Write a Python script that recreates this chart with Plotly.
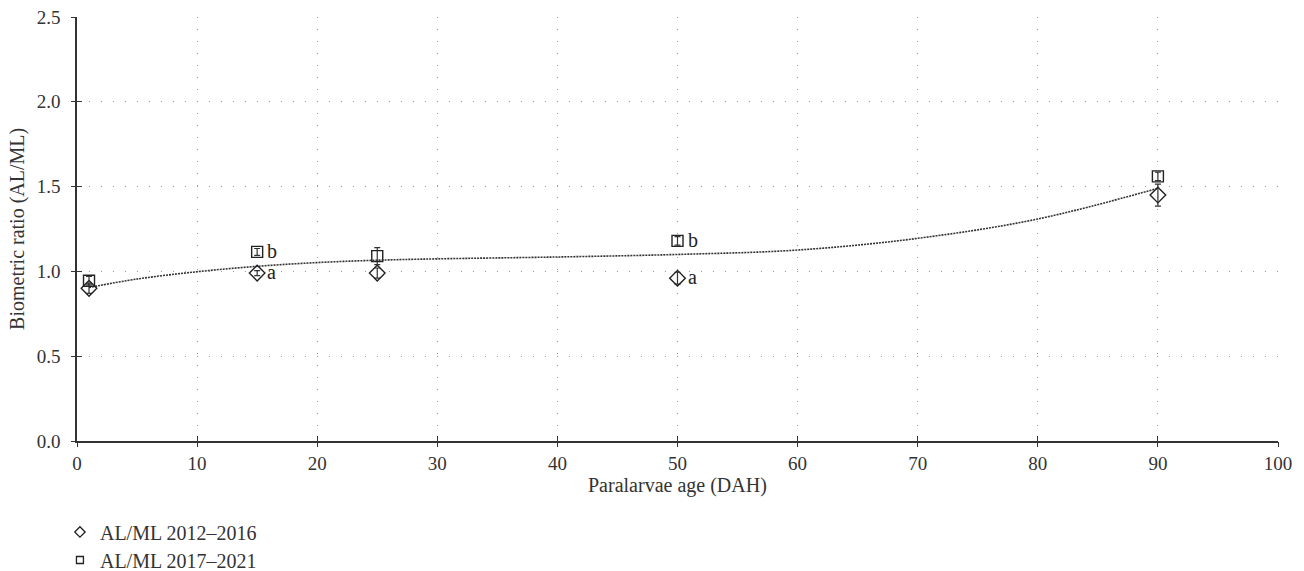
import plotly.graph_objects as go

age = [1, 15, 25, 50, 90]
ratio_2012_2016 = [0.90, 0.99, 0.99, 0.96, 1.45]
err_2012_2016 = [0.03, 0.015, 0.03, 0.035, 0.065]
ratio_2017_2021 = [0.945, 1.115, 1.09, 1.18, 1.56]
err_2017_2021 = [0.025, 0.02, 0.05, 0.025, 0.025]

trend_x = [1, 5, 10, 15, 20, 25, 30, 40, 50, 60, 70, 80, 90]
trend_y = [0.905, 0.955, 0.998, 1.03, 1.052, 1.066, 1.074, 1.085, 1.10, 1.126, 1.195, 1.309, 1.49]

sig_x = [15, 50, 15, 50]
sig_y = [1.115, 1.18, 0.99, 0.96]
sig_text = ["b", "b", "a", "a"]

series_names = ["AL/ML 2012\u20132016", "AL/ML 2017\u20132021"]

FONT = "Liberation Serif"
grid = "#9a9a9a"
ink = "#222"

fig = go.Figure()
fig.add_trace(go.Scatter(
    x=trend_x, y=trend_y, mode="lines", line=dict(color="#333", width=1.6, dash="2px,1px", shape="spline"),
    showlegend=False, hoverinfo="skip"))
fig.add_trace(go.Scatter(
    x=age, y=ratio_2012_2016, mode="markers", name=series_names[0], showlegend=False,
    marker=dict(symbol="diamond-open", size=12, color=ink, line=dict(width=1.4, color=ink)),
    error_y=dict(type="data", array=err_2012_2016, color="#333", thickness=1.2, width=3)))
fig.add_trace(go.Scatter(
    x=age, y=ratio_2017_2021, mode="markers", name=series_names[1], showlegend=False,
    marker=dict(symbol="square-open", size=11, color=ink, line=dict(width=1.4, color=ink)),
    error_y=dict(type="data", array=err_2017_2021, color="#333", thickness=1.2, width=3)))

# legend-only entries with small symbols
fig.add_trace(go.Scatter(x=[None], y=[None], mode="markers", name=series_names[0], legend="legend",
                         marker=dict(symbol="diamond-open", size=8, color=ink, line=dict(width=1.3, color=ink))))
fig.add_trace(go.Scatter(x=[None], y=[None], mode="markers", name=series_names[1], legend="legend2",
                         marker=dict(symbol="square-open", size=7, color=ink, line=dict(width=1.3, color=ink))))

for xv, yv, t in zip(sig_x, sig_y, sig_text):
    fig.add_annotation(x=xv, y=yv, text=t, showarrow=False, xanchor="left", yanchor="middle",
                       xshift=8, yshift=1, font=dict(family=FONT, size=20, color=ink))

# axis titles
fig.add_annotation(xref="paper", yref="paper", x=0.5, y=-0.106, text="Paralarvae age (DAH)",
                   showarrow=False, xanchor="center", yanchor="middle", font=dict(size=20, color="#333"))
fig.add_annotation(xref="paper", yref="paper", x=-0.05, y=0.5, text="Biometric ratio (AL/ML)",
                   showarrow=False, xanchor="center", yanchor="middle", textangle=-90,
                   font=dict(size=20, color="#333"))

# outer-tick overlay axes
fig.add_trace(go.Scatter(x=[0, 100], y=[0, 2.5], xaxis="x2", yaxis="y2", mode="markers",
                         marker=dict(opacity=0), showlegend=False, hoverinfo="skip"))

W, H = 1304, 571
fig.update_layout(
    width=W, height=H,
    margin=dict(l=77, r=26, t=17, b=130, autoexpand=False),
    plot_bgcolor="white", paper_bgcolor="white",
    font=dict(family=FONT, size=19, color="#333"),
    xaxis=dict(range=[0, 100], dtick=10, tick0=0, showgrid=True, gridcolor=grid, griddash="1px,11px", gridwidth=1,
               showline=True, linecolor="#333", linewidth=1.5, ticks="inside", ticklen=5, tickcolor="#333",
               zeroline=False, automargin=False, tickfont=dict(size=19), ticklabelstandoff=4,
               ticklabeloverflow="allow"),
    yaxis=dict(range=[0, 2.5], dtick=0.5, tick0=0, tickformat=".1f", showgrid=True, gridcolor=grid,
               griddash="1px,11px", gridwidth=1, automargin=False,
               showline=True, linecolor="#333", linewidth=1.5, ticks="inside", ticklen=5, tickcolor="#333",
               zeroline=False, tickfont=dict(size=19), ticklabelstandoff=11, ticklabeloverflow="allow"),
    xaxis2=dict(overlaying="x", range=[0, 100], dtick=10, tick0=0, showgrid=False, showticklabels=False,
                ticks="outside", ticklen=5, tickcolor="#333", zeroline=False, showline=False, side="bottom",
                automargin=False),
    yaxis2=dict(overlaying="y", range=[0, 2.5], dtick=0.5, tick0=0, showgrid=False, showticklabels=False,
                ticks="outside", ticklen=5, tickcolor="#333", zeroline=False, showline=False, side="left",
                automargin=False),
    legend=dict(x=-0.0142, y=-0.2146, xanchor="left", yanchor="middle", orientation="v",
                font=dict(size=20, color="#333"), itemwidth=30, bgcolor="rgba(0,0,0,0)"),
    legend2=dict(x=-0.0142, y=-0.2807, xanchor="left", yanchor="middle", orientation="v",
                 font=dict(size=20, color="#333"), itemwidth=30, bgcolor="rgba(0,0,0,0)"),
    showlegend=True,
)

fig.write_html("out.html", config={"displayModeBar": False},
               post_script="document.body.style.margin='0';document.body.style.overflow='hidden';")
